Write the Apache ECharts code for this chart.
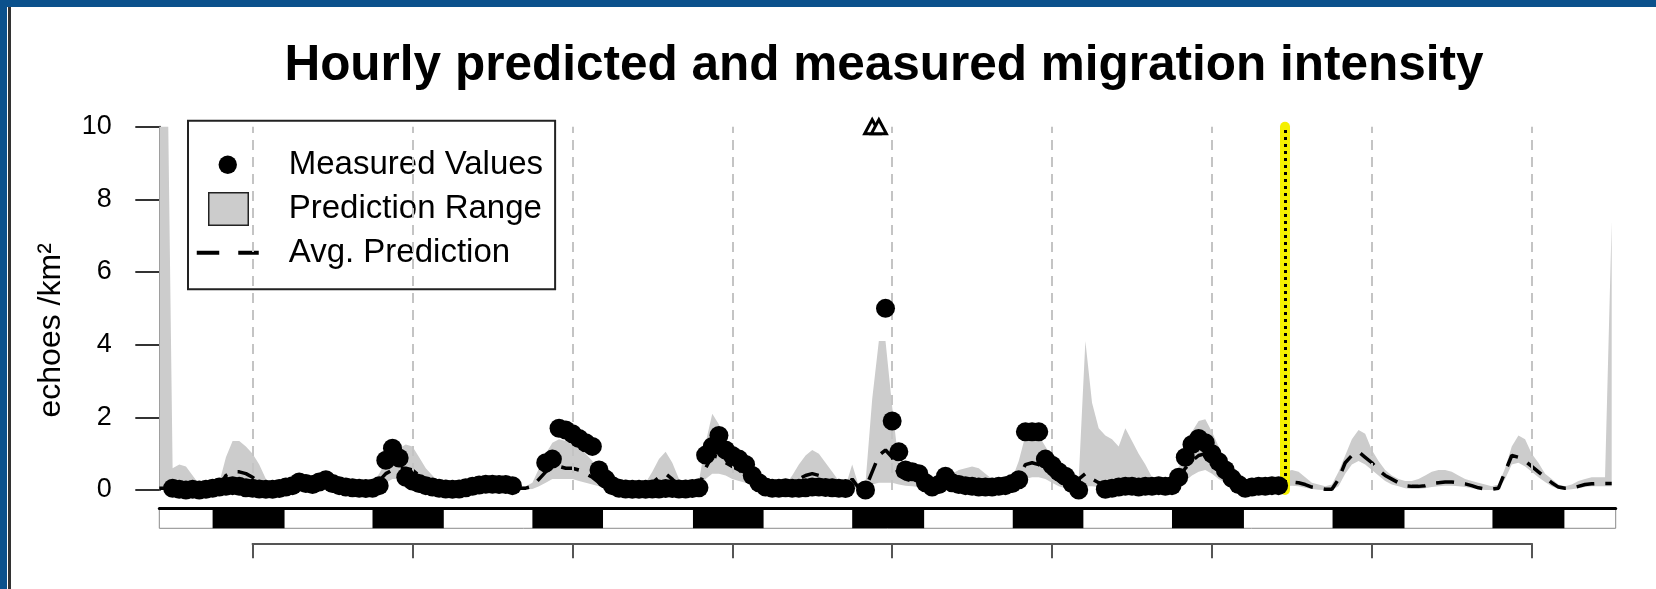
<!DOCTYPE html>
<html><head><meta charset="utf-8">
<script src="https://cdn.jsdelivr.net/npm/echarts@6/dist/echarts.min.js"></script>
<style>
html,body{margin:0;padding:0;background:#fff;}
#wrap{position:relative;width:1656px;height:589px;overflow:hidden;}
#chart{position:absolute;left:0;top:0;width:1656px;height:589px;}
.fr{position:absolute;pointer-events:none;}
</style></head><body>
<div id="wrap"><div id="chart"></div>
<div class="fr" style="left:0;top:0;width:1656px;height:7px;background:#0b518c"></div>
<div class="fr" style="left:0;top:0;width:7px;height:589px;background:#0b518c"></div>
<div class="fr" style="left:8px;top:7px;width:3px;height:582px;background:#333"></div>
</div>
<script>
// ---- DATA (hour index from start of the plotted period) ----
const titleText = 'Hourly predicted and measured migration intensity';
const yAxisTitle = 'echoes /km²';
const legendNames = ['Measured Values', 'Prediction Range', 'Avg. Prediction'];
const yTicks = [0, 2, 4, 6, 8, 10];

const measured = [
  null, null, 0.05, 0.02, 0, 0.02, 0, 0.02, 0.05, 0.08, 0.1, 0.12,
  0.1, 0.06, 0.05, 0.03, 0.02, 0.02, 0.04, 0.08, 0.12, 0.22, 0.18, 0.15,
  0.22, 0.28, 0.18, 0.12, 0.08, 0.06, 0.05, 0.04, 0.05, 0.12, 0.82, 1.15,
  0.88, 0.35, 0.25, 0.18, 0.12, 0.08, 0.05, 0.03, 0.02, 0.03, 0.06, 0.1,
  0.14, 0.16, 0.16, 0.15, 0.15, 0.12, null, null, null, null, 0.75, 0.85,
  1.7, 1.65, 1.55, 1.42, 1.3, 1.2, 0.55, 0.3, 0.12, 0.05, 0.03, 0.02,
  0.02, 0.02, 0.03, 0.03, 0.04, 0.04, 0.03, 0.03, 0.04, 0.06, 0.96, 1.2,
  1.5, 1.1, 0.95, 0.85, 0.7, 0.4, 0.2, 0.08, 0.05, 0.05, 0.06, 0.05,
  0.05, 0.06, 0.08, 0.08, 0.07, 0.06, 0.05, 0.04, null, null, 0, 12,
  11, 5.0, 1.9, 1.05, 0.55, 0.5, 0.45, 0.2, 0.08, 0.15, 0.38, 0.2,
  0.15, 0.12, 0.1, 0.08, 0.08, 0.08, 0.1, 0.12, 0.18, 0.28, 1.6, 1.6,
  1.6, 0.85, 0.68, 0.5, 0.38, 0.18, 0, null, null, null, 0.02, 0.05,
  0.08, 0.1, 0.1, 0.08, 0.1, 0.1, 0.12, 0.1, 0.12, 0.35, 0.9, 1.25,
  1.42, 1.3, 1.0, 0.78, 0.55, 0.32, 0.15, 0.05, 0.08, 0.1, 0.1, 0.12,
  0.12
];

const predUpper = [
  40, 15, 0.6, 0.7, 0.65, 0.4, 0.15, 0.1, 0.1, 0.2, 0.9, 1.35,
  1.35, 1.2, 1.0, 0.7, 0.3, 0.15, 0.1, 0.1, 0.1, 0.15, 0.15, 0.12,
  0.12, 0.12, 0.12, 0.1, 0.1, 0.1, 0.1, 0.1, 0.2, 0.45, 0.8, 1.0,
  1.15, 1.25, 1.2, 0.9, 0.6, 0.4, 0.2, 0.15, 0.1, 0.1, 0.1, 0.1,
  0.12, 0.12, 0.12, 0.12, 0.1, 0.1, 0.1, 0.1, 0.2, 0.6, 1.0, 1.3,
  1.4, 1.35, 1.3, 1.2, 1.0, 0.8, 0.5, 0.3, 0.15, 0.1, 0.1, 0.1,
  0.1, 0.2, 0.5, 0.85, 1.05, 0.75, 0.3, 0.1, 0.1, 0.25, 1.3, 2.1,
  1.8, 1.4, 1.2, 1.0, 0.8, 0.5, 0.3, 0.15, 0.1, 0.1, 0.15, 0.4,
  0.7, 0.95, 1.1, 1.0, 0.75, 0.5, 0.25, 0.1, 0.7, 0.1, 0.2, 2.5,
  4.1, 4.1, 2.3, 0.7, 0.5, 0.45, 0.35, 0.25, 0.2, 0.2, 0.3, 0.45,
  0.55, 0.6, 0.65, 0.6, 0.45, 0.3, 0.2, 0.15, 0.3, 0.8, 1.5, 1.7,
  1.5, 1.2, 0.9, 0.55, 0.3, 0.2, 0.3, 4.1, 2.4, 1.7, 1.5, 1.4,
  1.2, 1.7, 1.35, 1.0, 0.7, 0.35, 0.15, 0.1, 0.2, 0.6, 1.2, 1.6,
  1.9, 1.95, 1.6, 1.2, 0.8, 0.5, 0.3, 0.2, 0.15, 0.15, 0.15, 0.2,
  0.3, 0.5, 0.55, 0.5, 0.35, 0.2, 0.15, 0.1, 0.15, 0.5, 0.95, 1.4,
  1.65, 1.55, 1.1, 0.8, 0.55, 0.4, 0.3, 0.25, 0.25, 0.3, 0.4, 0.5,
  0.55, 0.55, 0.5, 0.4, 0.3, 0.25, 0.2, 0.15, 0.1, 0.15, 0.6, 1.2,
  1.5, 1.4, 1.0, 0.75, 0.45, 0.3, 0.15, 0.1, 0.15, 0.25, 0.3, 0.35,
  0.35, 0.35, 7.4
];

const predLower = [
  0, 0, 0, 0.02, 0.02, 0.02, 0, 0, 0, 0.02, 0.1, 0.2,
  0.2, 0.15, 0.1, 0.05, 0.02, 0, 0, 0, 0, 0.02, 0.02, 0.02,
  0.02, 0.02, 0.02, 0.02, 0.02, 0.02, 0.02, 0.02, 0.03, 0.1, 0.2, 0.3,
  0.3, 0.3, 0.25, 0.15, 0.1, 0.05, 0.03, 0.02, 0.02, 0.02, 0.02, 0.02,
  0.02, 0.02, 0.02, 0.02, 0.02, 0.02, 0.02, 0.02, 0.03, 0.1, 0.2, 0.3,
  0.3, 0.3, 0.3, 0.25, 0.2, 0.15, 0.1, 0.05, 0.02, 0, 0, 0,
  0, 0.02, 0.05, 0.15, 0.2, 0.12, 0.03, 0, 0, 0.03, 0.3, 0.45,
  0.45, 0.4, 0.3, 0.25, 0.2, 0.1, 0.05, 0.02, 0, 0, 0.02, 0.05,
  0.1, 0.15, 0.2, 0.15, 0.1, 0.08, 0.04, 0.01, 0.05, 0.01, 0.01, 0.15,
  0.2, 0.2, 0.2, 0.15, 0.12, 0.1, 0.08, 0.05, 0.04, 0.04, 0.05, 0.08,
  0.1, 0.1, 0.1, 0.1, 0.08, 0.05, 0.03, 0.03, 0.05, 0.1, 0.3, 0.35,
  0.35, 0.3, 0.2, 0.1, 0.05, 0.03, 0.1, 0.1, 0.1, 0.08, 0.06, 0.06,
  0.06, 0.08, 0.06, 0.05, 0.04, 0.03, 0.02, 0.02, 0.04, 0.1, 0.25, 0.4,
  0.5, 0.55, 0.45, 0.3, 0.2, 0.1, 0.06, 0.04, 0.03, 0.03, 0.03, 0.04,
  0.06, 0.1, 0.12, 0.1, 0.06, 0.03, 0.01, 0, 0, 0.1, 0.45, 0.7,
  0.8, 0.7, 0.55, 0.4, 0.25, 0.15, 0.1, 0.05, 0.03, 0.03, 0.05, 0.08,
  0.1, 0.12, 0.12, 0.1, 0.08, 0.05, 0.02, 0, 0, 0.02, 0.3, 0.7,
  0.75, 0.65, 0.5, 0.35, 0.22, 0.1, 0.03, 0.01, 0.02, 0.05, 0.08, 0.1,
  0.1, 0.1, 0.1
];

const predAvg = [
  0.05, 0.05, 0.05, 0.15, 0.15, 0.1, 0.05, 0.05, 0.05, 0.1, 0.4, 0.5,
  0.5, 0.45, 0.35, 0.2, 0.1, 0.05, 0.05, 0.05, 0.07, 0.08, 0.08, 0.07,
  0.07, 0.07, 0.06, 0.05, 0.05, 0.05, 0.05, 0.05, 0.1, 0.25, 0.45, 0.55,
  0.6, 0.6, 0.55, 0.4, 0.25, 0.15, 0.1, 0.05, 0.05, 0.05, 0.05, 0.05,
  0.06, 0.06, 0.06, 0.06, 0.05, 0.05, 0.05, 0.05, 0.1, 0.3, 0.5, 0.6,
  0.65, 0.6, 0.6, 0.55, 0.45, 0.35, 0.2, 0.1, 0.05, 0.03, 0.03, 0.03,
  0.03, 0.08, 0.2, 0.35, 0.45, 0.3, 0.1, 0.03, 0.03, 0.1, 0.6, 0.95,
  0.9, 0.75, 0.65, 0.55, 0.4, 0.25, 0.12, 0.05, 0.03, 0.03, 0.05, 0.15,
  0.3, 0.4, 0.45, 0.4, 0.3, 0.2, 0.1, 0.03, 0.3, 0.05, 0.05, 0.5,
  0.95, 1.1, 0.9, 0.4, 0.3, 0.25, 0.2, 0.15, 0.1, 0.1, 0.15, 0.2,
  0.2, 0.25, 0.25, 0.25, 0.2, 0.12, 0.08, 0.07, 0.15, 0.35, 0.7, 0.75,
  0.7, 0.55, 0.4, 0.25, 0.12, 0.08, 0.3, 0.45, 0.3, 0.2, 0.15, 0.15,
  0.15, 0.2, 0.15, 0.12, 0.1, 0.07, 0.05, 0.05, 0.1, 0.3, 0.6, 0.8,
  0.95, 1.0, 0.85, 0.6, 0.4, 0.25, 0.15, 0.1, 0.08, 0.08, 0.08, 0.1,
  0.15, 0.22, 0.22, 0.2, 0.15, 0.08, 0.05, 0.02, 0.02, 0.3, 0.75, 0.95,
  1.05, 0.9, 0.75, 0.55, 0.4, 0.3, 0.2, 0.12, 0.1, 0.1, 0.12, 0.18,
  0.2, 0.22, 0.22, 0.2, 0.17, 0.12, 0.06, 0.03, 0.02, 0.05, 0.5, 0.95,
  0.9, 0.8, 0.65, 0.5, 0.35, 0.2, 0.08, 0.05, 0.05, 0.1, 0.15, 0.17,
  0.18, 0.18, 0.18
];

const midnights = [14, 38, 62, 86, 110, 134, 158, 182, 206];
const nightStart = [8, 32, 56, 80.1, 104, 128.1, 152, 176.1, 200.1];
const nightEnd = [18.8, 42.7, 66.6, 90.7, 114.8, 138.7, 162.8, 186.9, 210.9];
const nowHour = 169;

// ---- LAYOUT ----
const FF = "'Liberation Sans', Arial, Helvetica, sans-serif";
const YMAX = 10;
const HMAX = 218.6;
const X0 = 159.3, XW = 1456.4;
const PXH = XW / HMAX;

const pair = arr => arr.map((v, i) => [i, v]);
const dots = [], offScale = [];
measured.forEach((v, i) => {
  if (v == null) return;
  if (v > YMAX) offScale.push([i, YMAX]); else dots.push([i, v]);
});
const nights = nightStart.map((s, i) => [s, nightEnd[i]]);

const dotIcon = 'path://M0 0 M87 34 M21.8 17 A9.2 9.2 0 1 1 40.2 17 A9.2 9.2 0 1 1 21.8 17 Z';
const boxIcon = 'path://M0 0 M87 34 M12 0.7 L51.5 0.7 L51.5 33.3 L12 33.3 Z';
const dashIcon = 'path://M0 0 M87 34 M0 14.5 L22.5 14.5 L22.5 18.5 L0 18.5 Z M41.5 14.5 L62 14.5 L62 18.5 L41.5 18.5 Z';

const chart = echarts.init(document.getElementById('chart'), null, {renderer: 'canvas'});
chart.setOption({
  animation: false,
  backgroundColor: '#fff',
  title: {
    text: titleText, left: 884, top: 41, textAlign: 'center', padding: 0,
    textStyle: {fontFamily: FF, fontSize: 49.5, fontWeight: 'bold', color: '#000'}
  },
  legend: {
    orient: 'vertical', left: 188, top: 120.7,
    padding: [27, 12, 19, 8],
    itemWidth: 87, itemHeight: 34, itemGap: 9.5,
    borderColor: '#222', borderWidth: 2, backgroundColor: '#fff',
    selectedMode: false,
    textStyle: {fontFamily: FF, fontSize: 33, color: '#000', lineHeight: 34},
    data: [
      {name: legendNames[0], icon: dotIcon, itemStyle: {color: '#000', opacity: 1}},
      {name: legendNames[1], icon: boxIcon, itemStyle: {color: '#cccccc', borderColor: '#222', borderWidth: 1.5}},
      {name: legendNames[2], icon: dashIcon, itemStyle: {color: '#000', borderWidth: 0}}
    ]
  },
  grid: [
    {left: X0, top: 126.7, width: XW, height: 363.3},
    {left: X0, top: 508.3, width: XW, height: 20, show: true, backgroundColor: '#fff', borderColor: '#8a8a8a', borderWidth: 1},
    {left: X0 + midnights[0] * PXH, top: 542.3, width: (midnights[midnights.length - 1] - midnights[0]) * PXH, height: 1}
  ],
  xAxis: [
    {gridIndex: 0, type: 'value', min: 0, max: HMAX, show: false},
    {gridIndex: 1, type: 'value', min: 0, max: HMAX, position: 'top',
      axisLine: {show: true, onZero: false, lineStyle: {color: '#000', width: 3}},
      axisTick: {show: false}, axisLabel: {show: false}, splitLine: {show: false}},
    {gridIndex: 2, type: 'value', min: 0, max: midnights[midnights.length - 1] - midnights[0], interval: 24, position: 'bottom',
      axisLine: {show: true, onZero: false, lineStyle: {color: '#555', width: 2}},
      axisTick: {show: true, length: 15, lineStyle: {color: '#555', width: 2}},
      axisLabel: {show: false}, splitLine: {show: false}}
  ],
  yAxis: [
    {gridIndex: 0, type: 'value', min: yTicks[0], max: yTicks[yTicks.length - 1], interval: 2, offset: 12.6,
      axisLine: {show: true, lineStyle: {color: '#333', width: 2}},
      axisTick: {show: true, length: 24, lineStyle: {color: '#333', width: 2}},
      axisLabel: {margin: 35, fontSize: 27, color: '#000', fontFamily: FF},
      splitLine: {show: false},
      name: yAxisTitle, nameLocation: 'middle', nameRotate: 90, nameGap: 80,
      nameTextStyle: {fontSize: 32, fontFamily: FF, color: '#000', padding: [0, 44, 0, 0]}},
    {gridIndex: 1, type: 'value', min: 0, max: 1, show: false},
    {gridIndex: 2, type: 'value', min: 0, max: 1, show: false}
  ],
  series: [
    {name: legendNames[1], type: 'custom', xAxisIndex: 0, yAxisIndex: 0, data: [[0, 0]],
      clip: true, silent: true, z: 1, itemStyle: {color: '#cccccc'},
      renderItem: function (params, api) {
        const pts = [];
        for (let i = 0; i < predUpper.length; i++) pts.push(api.coord([i, predUpper[i]]));
        for (let i = predLower.length - 1; i >= 0; i--) pts.push(api.coord([i, predLower[i]]));
        return {type: 'polygon', shape: {points: pts}, style: {fill: '#cccccc', stroke: null}};
      }},
    {name: legendNames[2], type: 'line', xAxisIndex: 0, yAxisIndex: 0, data: pair(predAvg),
      symbol: 'none', lineStyle: {color: '#000', width: 3.5, type: [18, 11]}, itemStyle: {color: '#000'}, silent: true, z: 3,
      markLine: {symbol: 'none', silent: true, label: {show: false},
        lineStyle: {color: '#c4c4c4', type: [10, 7], width: 2},
        data: midnights.map(m => ({xAxis: m}))}},
    {name: legendNames[0], type: 'scatter', xAxisIndex: 0, yAxisIndex: 0, data: dots,
      symbol: 'circle', symbolSize: 19, itemStyle: {color: '#000', opacity: 1}, clip: false, silent: true, z: 5,
      markLine: {symbol: 'none', silent: true, label: {show: false},
        data: [
          [{coord: [nowHour, 0], lineStyle: {color: '#f5f000', width: 10, cap: 'round', type: 'solid'}},
           {coord: [nowHour, YMAX]}],
          [{coord: [nowHour, 0], lineStyle: {color: '#000', width: 3, type: [3, 4]}},
           {coord: [nowHour, YMAX]}]
        ]}},
    {name: 'offScale', type: 'scatter', xAxisIndex: 0, yAxisIndex: 0, data: offScale,
      symbol: 'triangle', symbolSize: [15, 14], itemStyle: {color: '#fff', borderColor: '#000', borderWidth: 3, opacity: 1},
      clip: false, silent: true, z: 6},
    {name: 'nights', type: 'custom', xAxisIndex: 1, yAxisIndex: 1, data: nights, silent: true, z: 2,
      renderItem: function (params, api) {
        const a = api.coord([api.value(0), 1]);
        const b = api.coord([api.value(1), 0]);
        return {type: 'rect', shape: {x: a[0], y: a[1], width: b[0] - a[0], height: b[1] - a[1]}, style: {fill: '#000'}};
      }}
  ]
});
</script>
</body></html>
